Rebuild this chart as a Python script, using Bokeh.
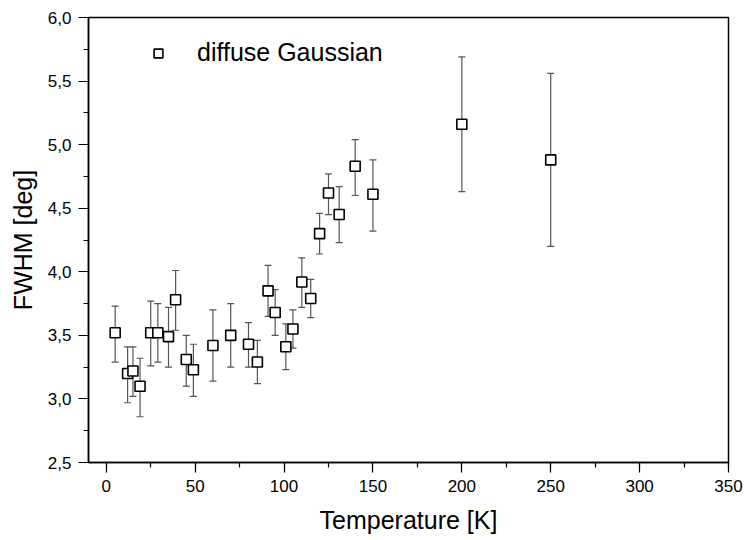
from bokeh.plotting import figure
from bokeh.models import (CustomJSTickFormatter, SingleIntervalTicker, Legend,
                          LegendItem, Range1d, ColumnDataSource)
from bokeh.embed import file_html
from bokeh.resources import INLINE

# ---- data ----
temperature = [5, 12, 15, 19, 25, 29, 35, 39, 45, 49, 60, 70, 80, 85, 91, 95,
               101, 105, 110, 115, 120, 125, 131, 140, 150, 200, 250]
fwhm = [3.52, 3.20, 3.22, 3.10, 3.52, 3.52, 3.49, 3.78, 3.31, 3.23, 3.42, 3.50,
        3.43, 3.29, 3.85, 3.68, 3.41, 3.55, 3.92, 3.79, 4.30, 4.62, 4.45, 4.83,
        4.61, 5.16, 4.88]
err_upper = [3.73, 3.41, 3.41, 3.32, 3.77, 3.75, 3.72, 4.01, 3.50, 3.43, 3.70,
             3.75, 3.60, 3.46, 4.05, 3.86, 3.59, 3.70, 4.11, 3.94, 4.46, 4.77,
             4.67, 5.04, 4.88, 5.69, 5.56]
err_lower = [3.29, 2.97, 3.02, 2.86, 3.26, 3.29, 3.25, 3.54, 3.10, 3.02, 3.14,
             3.25, 3.25, 3.12, 3.65, 3.50, 3.23, 3.40, 3.72, 3.64, 4.14, 4.45,
             4.23, 4.60, 4.32, 4.63, 4.20]
series_name = "diffuse Gaussian"
x_label = "Temperature [K]"
y_label = "FWHM [deg]"

FONT = "Liberation Sans"

src = ColumnDataSource(dict(x=temperature, y=fwhm, up=err_upper, lo=err_lower))

p = figure(width=744, height=536, output_backend="svg", toolbar_location=None,
           x_range=Range1d(-10, 350), y_range=Range1d(2.5, 6.0),
           min_border_left=88, min_border_right=16, min_border_top=17,
           min_border_bottom=73)

p.xgrid.visible = False
p.ygrid.visible = False
p.outline_line_color = "black"
p.outline_line_width = 1.5
p.background_fill_color = "white"
p.border_fill_color = "white"

# error bars
p.segment(x0="x", y0="lo", x1="x", y1="up", source=src,
          line_color="#555555", line_width=1.2)
p.scatter(x="x", y="up", source=src, marker="dash", size=7,
          line_color="#555555", line_width=1.2)
p.scatter(x="x", y="lo", source=src, marker="dash", size=7,
          line_color="#555555", line_width=1.2)

# points
pts = p.scatter(x="x", y="y", source=src, marker="square", size=10,
                fill_color="white", line_color="black", line_width=1.6)

# axes
p.xaxis.ticker = SingleIntervalTicker(interval=50, num_minor_ticks=2)
p.yaxis.ticker = SingleIntervalTicker(interval=0.5, num_minor_ticks=2)
p.yaxis.formatter = CustomJSTickFormatter(
    code="return tick.toFixed(1).replace('.', ',');")

for ax in (p.xaxis[0], p.yaxis[0]):
    ax.axis_line_color = "black"
    ax.axis_line_width = 1.5
    ax.major_tick_line_color = "black"
    ax.major_tick_line_width = 1.2
    ax.minor_tick_line_color = "black"
    ax.minor_tick_line_width = 1.2
    ax.major_tick_out = 10
    ax.major_tick_in = 0
    ax.minor_tick_out = 5
    ax.minor_tick_in = 0
    ax.major_label_text_font = FONT
    ax.major_label_text_font_size = "17px"
    ax.major_label_text_color = "black"
    ax.axis_label_text_font = FONT
    ax.axis_label_text_font_size = "25px"
    ax.axis_label_text_font_style = "normal"
    ax.axis_label_text_color = "black"

p.xaxis.axis_label = x_label
p.yaxis.axis_label = y_label
p.xaxis.major_label_standoff = 7
p.yaxis.major_label_standoff = 7
p.xaxis.axis_label_standoff = 11
p.yaxis.axis_label_standoff = 8

legend = Legend(items=[LegendItem(label=series_name, renderers=[pts])],
                location=(59, 395), margin=0, padding=0,
                glyph_width=22, glyph_height=22, label_standoff=28,
                label_text_font=FONT, label_text_font_size="25px",
                label_text_color="black",
                border_line_color=None, background_fill_alpha=0)
p.add_layout(legend)

open("out.html", "w").write(file_html(p, INLINE))
